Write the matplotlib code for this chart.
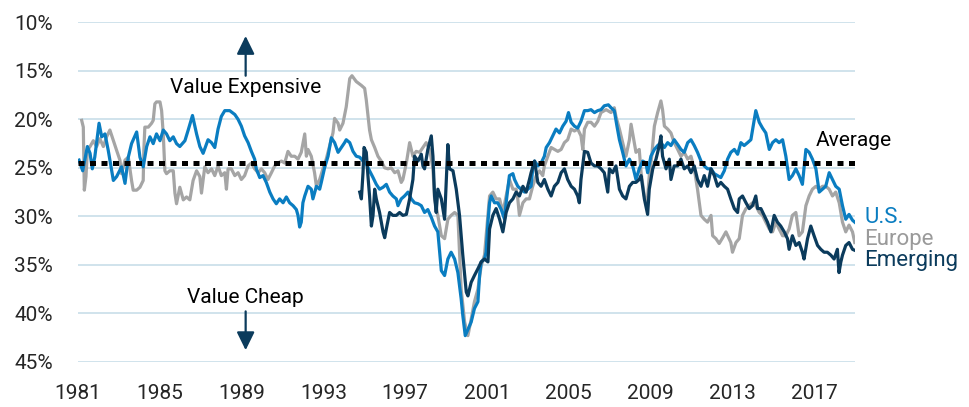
import matplotlib
matplotlib.use("Agg")
import matplotlib.pyplot as plt

plt.rcParams['font.family'] = ['Roboto', 'DejaVu Sans']

# ---- data ----
us_years = [1981.05, 1981.23, 1981.46, 1981.59, 1981.70, 1981.82, 1982.03, 1982.16, 1982.32, 1982.48,
            1982.73, 1982.89, 1983.13, 1983.30, 1983.46, 1983.62, 1983.87, 1984.03, 1984.19, 1984.36,
            1984.52, 1984.68, 1984.84, 1985.01, 1985.17, 1985.33, 1985.49, 1985.66, 1985.82, 1985.98,
            1986.23, 1986.39, 1986.60, 1986.80, 1986.96, 1987.12, 1987.36, 1987.53, 1987.69, 1987.85,
            1988.01, 1988.18, 1988.42, 1988.67, 1988.83, 1988.99, 1989.15, 1989.32, 1989.48, 1989.64,
            1989.72, 1989.89, 1990.05, 1990.21, 1990.38, 1990.54, 1990.70, 1990.86, 1991.03, 1991.19,
            1991.35, 1991.52, 1991.68, 1991.76, 1991.84, 1991.92, 1992.00, 1992.09, 1992.25, 1992.41,
            1992.49, 1992.66, 1992.82, 1992.90, 1993.06, 1993.23, 1993.39, 1993.55, 1993.72, 1993.88,
            1994.04, 1994.12, 1994.29, 1994.45, 1994.61, 1994.78, 1994.94, 1995.10, 1995.26, 1995.43,
            1995.59, 1995.75, 1995.92, 1996.08, 1996.24, 1996.40, 1996.57, 1996.65, 1996.81, 1996.97,
            1997.14, 1997.30, 1997.46, 1997.63, 1997.79, 1997.95, 1998.11, 1998.28, 1998.44, 1998.60,
            1998.77, 1998.93, 1999.09, 1999.25, 1999.42, 1999.58, 1999.74, 1999.82, 1999.94, 2000.23,
            2000.39, 2000.56, 2000.64, 2000.72, 2000.88, 2000.96, 2001.05, 2001.13, 2001.21, 2001.37,
            2001.53, 2001.70, 2001.86, 2001.94, 2002.10, 2002.27, 2002.35, 2002.51, 2002.67, 2002.84,
            2003.00, 2003.16, 2003.24, 2003.33, 2003.49, 2003.65, 2003.81, 2003.90, 2004.06, 2004.22,
            2004.38, 2004.55, 2004.71, 2004.87, 2004.99, 2005.12, 2005.28, 2005.44, 2005.60, 2005.77,
            2005.93, 2006.09, 2006.26, 2006.42, 2006.58, 2006.74, 2006.94, 2007.07, 2007.23, 2007.36,
            2007.48, 2007.64, 2007.80, 2007.97, 2008.13, 2008.29, 2008.45, 2008.62, 2008.78, 2008.86,
            2009.02, 2009.19, 2009.35, 2009.51, 2009.68, 2009.84, 2010.00, 2010.16, 2010.33, 2010.49,
            2010.65, 2010.82, 2010.98, 2011.14, 2011.30, 2011.47, 2011.63, 2011.79, 2011.96, 2012.12,
            2012.28, 2012.44, 2012.61, 2012.77, 2012.93, 2013.10, 2013.26, 2013.42, 2013.58, 2013.75,
            2013.91, 2014.02, 2014.15, 2014.32, 2014.48, 2014.64, 2014.81, 2014.97, 2015.13, 2015.29,
            2015.46, 2015.62, 2015.78, 2015.94, 2016.11, 2016.27, 2016.43, 2016.60, 2016.76, 2016.92,
            2017.09, 2017.25, 2017.41, 2017.57, 2017.74, 2017.90, 2018.06, 2018.23, 2018.39, 2018.55,
            2018.71, 2018.88, 2018.99]
us_values = [24.2, 25.3, 22.8, 23.5, 25.1, 23.9, 20.4, 21.8, 21.5, 23.2,
             26.3, 25.9, 24.9, 26.6, 23.9, 22.5, 21.3, 23.9, 24.9, 22.8,
             21.8, 22.5, 21.5, 22.2, 21.1, 21.5, 22.2, 21.8, 22.5, 22.8,
             22.2, 21.1, 19.6, 21.5, 22.8, 23.5, 22.1, 22.4, 22.9, 21.0,
             19.7, 19.1, 19.1, 19.5, 20.0, 20.7, 21.7, 22.4, 23.3, 24.1,
             25.1, 26.0, 25.8, 26.5, 27.5, 28.2, 28.7, 28.2, 28.6, 28.0,
             28.6, 28.9, 29.3, 29.9, 31.1, 30.6, 28.6, 27.9, 26.9, 27.2,
             28.2, 26.9, 27.2, 26.5, 25.0, 23.8, 21.9, 22.4, 23.4, 22.9,
             22.4, 22.1, 22.4, 23.3, 23.8, 23.9, 24.3, 24.6, 25.3, 26.0,
             26.7, 27.2, 27.0, 26.7, 27.5, 27.9, 28.2, 28.9, 28.2, 27.9,
             27.5, 28.2, 28.6, 28.7, 28.9, 29.6, 29.3, 30.1, 31.0, 31.6,
             35.6, 36.1, 34.4, 33.7, 34.4, 35.8, 38.5, 40.2, 42.3, 40.9,
             39.5, 38.8, 36.1, 34.7, 34.4, 33.7, 30.6, 28.6, 27.9, 28.6,
             28.6, 29.3, 30.3, 28.6, 25.8, 25.6, 26.2, 26.9, 27.2, 27.5,
             27.2, 26.9, 25.1, 24.3, 24.8, 24.5, 23.8, 22.9, 22.4, 21.7,
             21.0, 21.4, 20.7, 20.2, 19.3, 20.3, 20.7, 20.9, 20.2, 19.1,
             19.1, 19.0, 19.3, 19.1, 19.0, 18.6, 18.5, 18.8, 19.1, 20.7,
             22.1, 23.4, 24.8, 24.1, 24.8, 26.2, 25.1, 24.3, 24.5, 25.5,
             23.8, 23.1, 22.7, 22.4, 22.9, 22.4, 22.7, 22.1, 22.6, 23.1,
             23.4, 22.4, 22.1, 22.7, 23.4, 24.3, 24.8, 25.1, 25.1, 25.6,
             25.8, 26.0, 25.3, 24.1, 23.4, 23.1, 23.6, 22.4, 22.7, 22.4,
             22.1, 20.7, 19.1, 20.3, 20.9, 21.4, 23.1, 22.4, 22.1, 22.4,
             22.1, 23.8, 26.2, 25.8, 25.1, 25.8, 26.7, 23.1, 23.4, 24.1,
             25.1, 27.5, 27.2, 26.9, 25.5, 26.2, 26.9, 27.2, 28.9, 30.3,
             29.8, 30.4, 30.6]

europe_years = [1981.18, 1981.26, 1981.31, 1981.39, 1981.46, 1981.59, 1981.75, 1981.91, 1982.07, 1982.24,
                1982.40, 1982.56, 1982.73, 1982.89, 1983.05, 1983.13, 1983.30, 1983.46, 1983.62, 1983.70,
                1983.87, 1984.03, 1984.19, 1984.22, 1984.27, 1984.44, 1984.60, 1984.68, 1984.76, 1984.84,
                1985.01, 1985.09, 1985.17, 1985.25, 1985.33, 1985.49, 1985.66, 1985.74, 1985.82, 1985.98,
                1986.15, 1986.31, 1986.47, 1986.63, 1986.80, 1986.96, 1987.04, 1987.20, 1987.36, 1987.53,
                1987.69, 1987.85, 1988.01, 1988.18, 1988.26, 1988.34, 1988.50, 1988.67, 1988.83, 1988.99,
                1989.15, 1989.32, 1989.48, 1989.64, 1989.81, 1989.97, 1990.13, 1990.29, 1990.46, 1990.62,
                1990.78, 1990.95, 1991.11, 1991.27, 1991.43, 1991.60, 1991.76, 1991.92, 1992.09, 1992.17,
                1992.25, 1992.41, 1992.57, 1992.66, 1992.82, 1992.98, 1993.14, 1993.31, 1993.47, 1993.55,
                1993.72, 1993.80, 1993.96, 1994.12, 1994.29, 1994.40, 1994.61, 1994.86, 1995.02, 1995.10,
                1995.26, 1995.35, 1995.51, 1995.67, 1995.83, 1996.00, 1996.16, 1996.32, 1996.49, 1996.65,
                1996.81, 1996.89, 1997.06, 1997.22, 1997.38, 1997.54, 1997.71, 1997.87, 1998.03, 1998.20,
                1998.36, 1998.44, 1998.60, 1998.77, 1998.93, 1999.09, 1999.25, 1999.42, 1999.58, 1999.74,
                1999.91, 2000.07, 2000.23, 2000.39, 2000.56, 2000.72, 2000.88, 2001.05, 2001.13, 2001.29,
                2001.45, 2001.62, 2001.78, 2001.94, 2002.10, 2002.27, 2002.43, 2002.51, 2002.59, 2002.76,
                2002.92, 2003.08, 2003.24, 2003.41, 2003.57, 2003.73, 2003.81, 2003.98, 2004.14, 2004.30,
                2004.47, 2004.63, 2004.79, 2004.95, 2005.12, 2005.28, 2005.44, 2005.60, 2005.69, 2005.77,
                2005.93, 2006.09, 2006.26, 2006.42, 2006.58, 2006.83, 2007.07, 2007.23, 2007.31, 2007.48,
                2007.64, 2007.80, 2007.97, 2008.05, 2008.18, 2008.29, 2008.45, 2008.54, 2008.70, 2008.83,
                2008.94, 2009.06, 2009.19, 2009.35, 2009.51, 2009.59, 2009.68, 2009.84, 2010.00, 2010.16,
                2010.33, 2010.49, 2010.65, 2010.82, 2010.98, 2011.14, 2011.30, 2011.39, 2011.47, 2011.63,
                2011.79, 2011.96, 2012.04, 2012.20, 2012.36, 2012.53, 2012.69, 2012.93, 2013.01, 2013.18,
                2013.34, 2013.50, 2013.67, 2013.83, 2013.99, 2014.15, 2014.32, 2014.48, 2014.64, 2014.81,
                2014.97, 2015.13, 2015.29, 2015.46, 2015.62, 2015.78, 2015.94, 2016.11, 2016.27, 2016.43,
                2016.60, 2016.76, 2016.92, 2017.09, 2017.25, 2017.41, 2017.57, 2017.74, 2017.90, 2018.06,
                2018.23, 2018.39, 2018.55, 2018.71, 2018.88, 2018.99]
europe_values = [20.1, 20.8, 27.3, 25.9, 23.2, 22.8, 22.2, 22.8, 22.0, 22.8,
                 21.8, 21.1, 22.2, 23.2, 24.2, 25.6, 24.2, 23.9, 26.3, 27.3,
                 27.3, 27.0, 26.3, 23.2, 20.8, 20.8, 20.4, 20.1, 18.4, 18.2,
                 18.2, 19.1, 21.5, 25.3, 25.6, 25.3, 25.3, 27.6, 28.7, 27.0,
                 28.3, 28.0, 28.3, 26.3, 25.3, 25.9, 27.6, 24.9, 25.5, 25.1,
                 25.8, 24.8, 25.8, 25.5, 27.2, 25.1, 25.1, 25.8, 25.5, 26.2,
                 25.8, 24.8, 24.5, 25.1, 25.5, 25.1, 25.5, 26.2, 25.5, 24.8,
                 24.5, 24.3, 24.5, 23.3, 23.8, 23.8, 24.1, 23.4, 21.5, 23.8,
                 23.1, 23.8, 25.5, 26.9, 26.2, 25.1, 24.1, 22.7, 21.4, 19.9,
                 20.4, 21.1, 20.4, 18.7, 15.8, 15.5, 16.1, 16.5, 16.8, 18.0,
                 21.1, 22.1, 22.9, 23.8, 24.3, 25.0, 25.1, 25.0, 25.5, 25.3,
                 26.5, 26.2, 24.5, 22.4, 23.8, 23.3, 23.4, 22.9, 22.4, 23.1,
                 25.1, 28.2, 29.9, 32.0, 32.3, 30.3, 29.9, 29.6, 29.9, 37.5,
                 40.9, 42.3, 40.6, 38.8, 37.5, 35.1, 34.0, 29.9, 27.9, 27.5,
                 28.2, 28.2, 29.6, 27.9, 26.2, 27.2, 27.2, 28.2, 29.9, 28.6,
                 28.2, 28.2, 26.9, 25.8, 25.3, 25.8, 24.8, 23.8, 22.9, 23.1,
                 23.3, 23.1, 22.4, 22.1, 21.0, 21.2, 21.0, 21.7, 23.1, 21.0,
                 20.3, 20.3, 20.7, 20.2, 19.3, 19.0, 19.3, 18.8, 19.7, 21.0,
                 22.4, 23.8, 22.1, 20.5, 22.1, 23.4, 23.1, 25.5, 27.9, 28.9,
                 25.8, 23.8, 20.7, 19.3, 18.1, 19.0, 20.7, 21.0, 21.4, 22.4,
                 23.1, 23.8, 23.4, 24.1, 23.8, 25.1, 27.2, 28.6, 29.9, 30.3,
                 30.6, 29.9, 32.0, 32.3, 32.8, 32.2, 31.6, 32.7, 33.7, 32.7,
                 32.3, 29.9, 29.2, 28.9, 28.6, 28.9, 29.6, 29.9, 30.6, 31.3,
                 31.6, 30.6, 31.3, 32.0, 32.0, 31.3, 29.9, 29.6, 32.0, 31.6,
                 28.9, 27.9, 27.2, 26.9, 27.2, 26.9, 26.9, 27.2, 27.9, 27.5,
                 28.6, 30.6, 31.6, 30.9, 31.6, 32.7]

emerging_years = [1994.78, 1994.86, 1994.94, 1994.99, 1995.10, 1995.18, 1995.26, 1995.35, 1995.43, 1995.51,
                  1995.59, 1995.75, 1995.92, 1996.00, 1996.08, 1996.24, 1996.40, 1996.57, 1996.73, 1996.89,
                  1997.06, 1997.22, 1997.38, 1997.46, 1997.63, 1997.79, 1997.87, 1997.95, 1998.11, 1998.28,
                  1998.36, 1998.44, 1998.52, 1998.60, 1998.77, 1998.93, 1999.01, 1999.09, 1999.17, 1999.34,
                  1999.50, 1999.66, 1999.82, 1999.99, 2000.07, 2000.23, 2000.39, 2000.56, 2000.72, 2000.88,
                  2001.05, 2001.13, 2001.29, 2001.45, 2001.62, 2001.78, 2001.94, 2002.10, 2002.27, 2002.43,
                  2002.59, 2002.76, 2002.92, 2003.08, 2003.16, 2003.33, 2003.49, 2003.65, 2003.81, 2003.98,
                  2004.14, 2004.30, 2004.47, 2004.63, 2004.79, 2004.95, 2005.12, 2005.28, 2005.44, 2005.52,
                  2005.60, 2005.77, 2005.93, 2006.09, 2006.26, 2006.42, 2006.58, 2006.74, 2006.91, 2006.99,
                  2007.15, 2007.31, 2007.48, 2007.64, 2007.80, 2007.97, 2008.13, 2008.29, 2008.45, 2008.54,
                  2008.70, 2008.86, 2008.94, 2009.11, 2009.27, 2009.43, 2009.51, 2009.59, 2009.76, 2009.92,
                  2010.00, 2010.16, 2010.33, 2010.49, 2010.65, 2010.82, 2010.98, 2011.14, 2011.30, 2011.47,
                  2011.63, 2011.79, 2011.96, 2012.12, 2012.28, 2012.44, 2012.61, 2012.77, 2012.93, 2013.10,
                  2013.26, 2013.34, 2013.50, 2013.67, 2013.83, 2013.99, 2014.15, 2014.24, 2014.40, 2014.56,
                  2014.72, 2014.89, 2015.05, 2015.21, 2015.37, 2015.54, 2015.70, 2015.78, 2015.94, 2016.11,
                  2016.27, 2016.43, 2016.51, 2016.68, 2016.84, 2017.00, 2017.17, 2017.33, 2017.49, 2017.65,
                  2017.82, 2017.98, 2018.14, 2018.22, 2018.31, 2018.39, 2018.55, 2018.71, 2018.88, 2018.99]
emerging_values = [27.5, 28.2, 25.5, 22.9, 23.4, 25.8, 27.9, 31.0, 29.9, 27.2,
                   28.2, 29.6, 31.6, 32.2, 31.3, 29.6, 29.9, 29.9, 29.6, 29.9,
                   29.8, 28.2, 26.2, 23.8, 24.3, 23.6, 24.8, 25.1, 23.1, 21.7,
                   23.8, 27.9, 29.6, 27.2, 28.2, 30.3, 26.5, 22.6, 25.1, 25.3,
                   27.2, 29.9, 34.0, 37.8, 38.2, 36.8, 36.1, 35.4, 34.7, 34.4,
                   34.7, 31.3, 29.9, 29.2, 30.3, 31.6, 29.6, 28.6, 28.2, 27.5,
                   27.9, 26.9, 27.5, 26.2, 25.5, 24.3, 26.5, 26.9, 26.2, 27.2,
                   27.9, 26.9, 26.5, 25.5, 25.1, 26.2, 26.9, 27.2, 27.9, 28.6,
                   26.2, 23.3, 23.4, 24.5, 24.8, 24.8, 25.1, 25.5, 27.5, 25.1,
                   25.5, 24.8, 27.2, 27.9, 28.2, 26.9, 26.5, 26.5, 26.2, 25.8,
                   28.2, 29.8, 27.2, 25.1, 24.1, 22.7, 21.7, 23.8, 25.1, 24.1,
                   26.2, 24.8, 24.8, 24.1, 25.1, 24.8, 25.5, 24.8, 26.2, 26.9,
                   25.8, 26.9, 25.1, 25.8, 26.9, 26.5, 26.9, 27.2, 28.2, 29.2,
                   29.6, 28.2, 27.9, 28.6, 29.2, 28.9, 27.9, 29.2, 29.2, 29.9,
                   30.6, 31.6, 29.9, 30.6, 31.0, 31.6, 32.3, 33.4, 32.0, 33.0,
                   32.7, 33.7, 34.4, 32.3, 31.0, 32.0, 33.0, 33.4, 33.7, 33.7,
                   34.0, 34.4, 33.4, 35.8, 34.7, 34.0, 33.0, 32.7, 33.4, 33.5]

average_level = 24.5
x_ticks = [1981, 1985, 1989, 1993, 1997, 2001, 2005, 2009, 2013, 2017]
y_ticks = [10, 15, 20, 25, 30, 35, 40, 45]

BLUE = '#0a7dc1'
GRAY = '#a5a5a5'
NAVY = '#0b3b5c'

fig = plt.figure(figsize=(9.70, 4.07), dpi=100)
ax = fig.add_axes([0.0804, 0.111, 0.801, 0.834])

for yt in y_ticks:
    ax.axhline(yt, color='#cde0ea', lw=1.3, zorder=0)

ax.plot(europe_years, europe_values, color=GRAY, lw=2.3, zorder=2)
ax.plot(us_years, us_values, color=BLUE, lw=2.3, zorder=3)
ax.plot(emerging_years, emerging_values, color=NAVY, lw=2.3, zorder=4)
ax.plot([1981, 2019], [average_level, average_level], color='black', lw=3.6,
        linestyle=(0, (1.2, 1.1)), zorder=5)

ax.set_xlim(1981, 2019)
ax.set_ylim(45, 10)
ax.set_xticks(x_ticks)
ax.set_xticklabels([str(t) for t in x_ticks])
ax.set_yticks(y_ticks)
ax.set_yticklabels([f'{t}%' for t in y_ticks])
ax.tick_params(length=0, labelsize=15, colors='#262626')
ax.tick_params(axis='y', pad=18)
ax.tick_params(axis='x', pad=16)
for s in ax.spines.values():
    s.set_visible(False)

# annotations
arrow_style = dict(arrowstyle='-|>,head_width=0.27,head_length=0.55', color=NAVY, lw=1.6,
                   mutation_scale=20, shrinkA=0, shrinkB=0)
ax.text(1989.2, 16.7, 'Value Expensive', ha='center', va='center', fontsize=15, color='black')
ax.text(1989.2, 38.4, 'Value Cheap', ha='center', va='center', fontsize=15, color='black')
ax.annotate('', xy=(1989.2, 11.4), xytext=(1989.2, 15.5), arrowprops=arrow_style)
ax.annotate('', xy=(1989.2, 43.8), xytext=(1989.2, 39.8), arrowprops=arrow_style)
ax.text(2017.1, 22.2, 'Average', ha='left', va='center', fontsize=15, color='black')

ax.text(2019.45, 30.1, 'U.S.', ha='left', va='center', fontsize=16, color=BLUE, clip_on=False)
ax.text(2019.45, 32.4, 'Europe', ha='left', va='center', fontsize=16, color='#9a9a9a', clip_on=False)
ax.text(2019.45, 34.6, 'Emerging', ha='left', va='center', fontsize=16, color=NAVY, clip_on=False)

fig.savefig('out.png', dpi=100)
